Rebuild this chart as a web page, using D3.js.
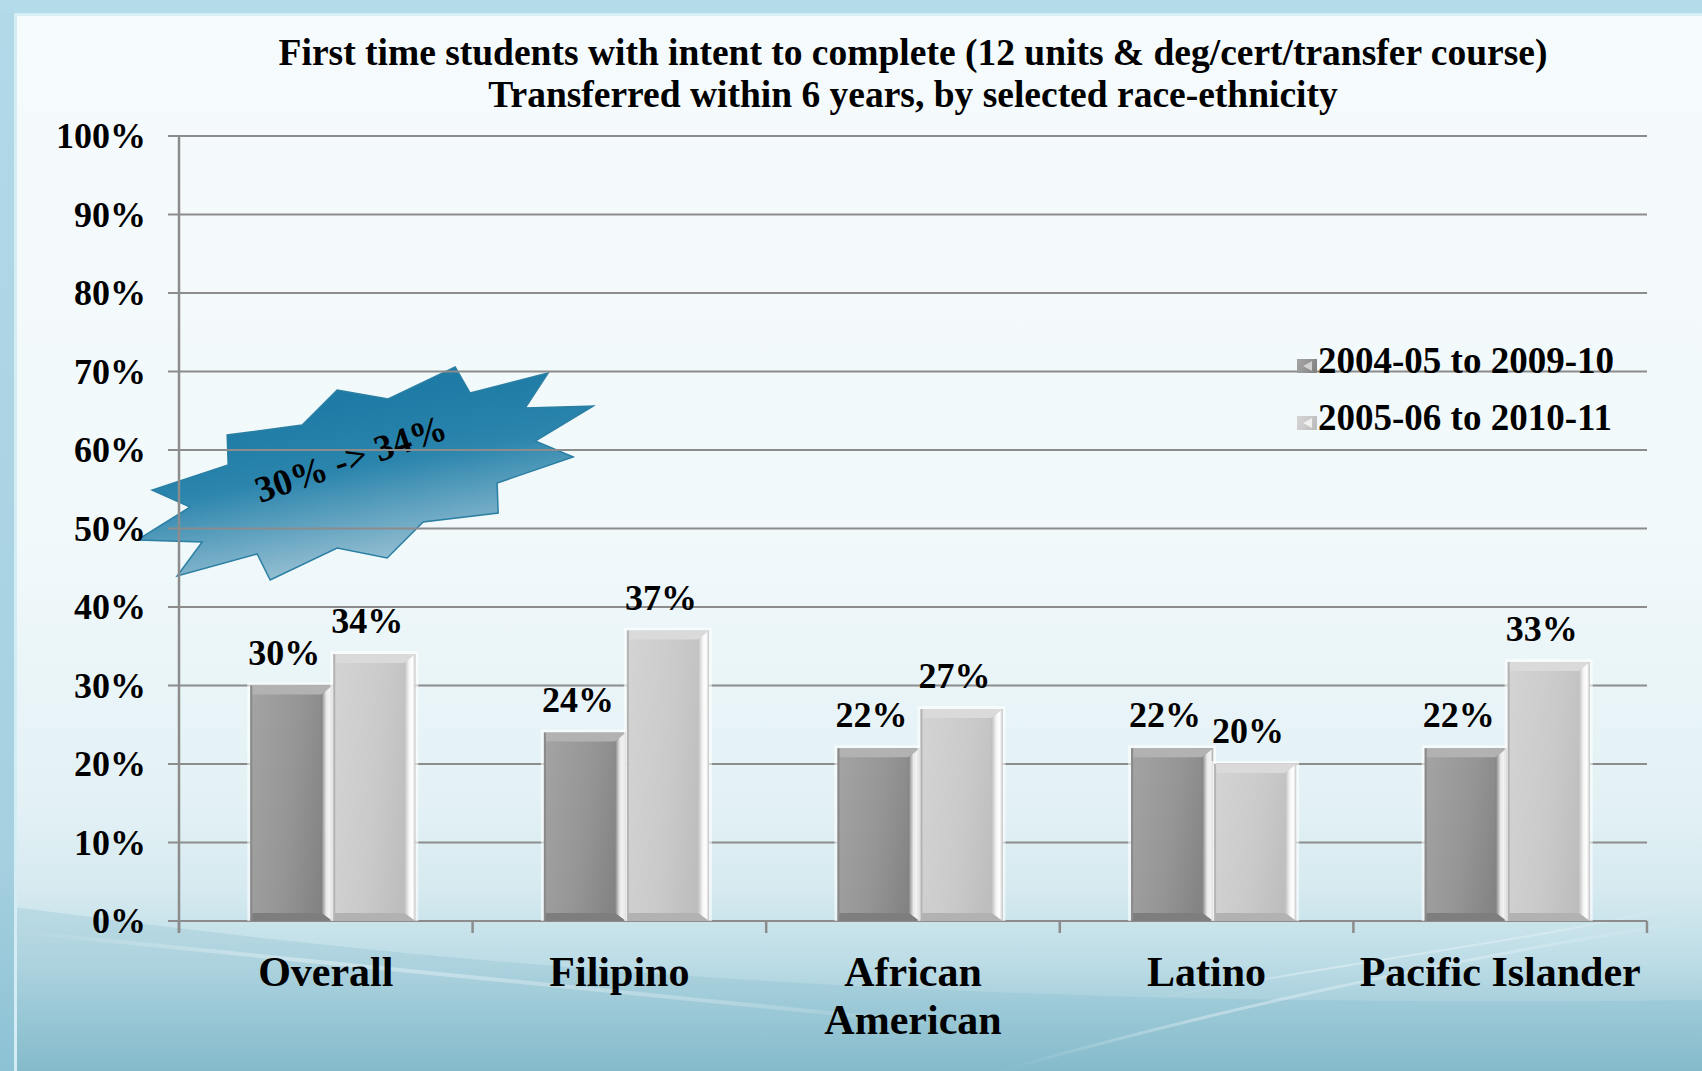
<!DOCTYPE html>
<html>
<head>
<meta charset="utf-8">
<script src="https://cdn.jsdelivr.net/npm/d3@7"></script>
<style>
  html, body { margin: 0; padding: 0; background: #ffffff; }
  svg { display: block; }
  text { font-family: "Liberation Serif", "Times New Roman", serif; font-weight: bold; fill: #000; }
</style>
</head>
<body>
<svg id="chart" width="1702" height="1071"></svg>
<script>
// chart data
var categories = ["Overall", "Filipino", "African American", "Latino", "Pacific Islander"];
var categoryLines = [["Overall"], ["Filipino"], ["African", "American"], ["Latino"], ["Pacific Islander"]];
var series = ["2004-05 to 2009-10", "2005-06 to 2010-11"];
var cohort1 = [0.30, 0.24, 0.22, 0.22, 0.22];
var cohort2 = [0.34, 0.37, 0.27, 0.20, 0.33];
var yTicks = [0, 0.1, 0.2, 0.3, 0.4, 0.5, 0.6, 0.7, 0.8, 0.9, 1.0];
var titleLines = [
  "First time students with intent to complete (12 units & deg/cert/transfer course)",
  "Transferred within 6 years, by selected race-ethnicity"
];
var calloutText = "30% -> 34%";
// callout outline, offsets from its anchor
var burst = [[-218,90],[-153,92],[-178,126],[-98,104],[-85,130],[-18,98],[32,108],[68,72],
  [143,63],[142,33],[218,7],[180,-9],[238,-44],[170,-42],[193,-77],[115,-57],[100,-83],
  [33,-51],[-18,-60],[-53,-25],[-128,-15],[-127,15],[-203,40],[-165,57]];

var svg = d3.select("#chart");
var W = 1702, H = 1071;
var margins = { top: 136, bottom: 150, left: 179, right: 55 };

var x = d3.scaleBand().domain(categories).range([margins.left, W - margins.right]);
var y = d3.scaleLinear().domain([0, 1]).range([H - margins.bottom, margins.top]);
var xs = d3.scaleBand().domain(series).range([0, 165]).paddingInner(0.012);
var barShift = 7; // bars sit a little right of the labels

var defs = svg.append("defs");

function linGrad(id, x1, y1, x2, y2, stops) {
  var g = defs.append("linearGradient").attr("id", id)
    .attr("x1", x1).attr("y1", y1).attr("x2", x2).attr("y2", y2);
  stops.forEach(function (s) {
    g.append("stop").attr("offset", s[0]).attr("stop-color", s[1]).attr("stop-opacity", s[2] == null ? 1 : s[2]);
  });
}

linGrad("bg", 0, 0, 0, 1, [[0, "#f6fbfd"], [0.5, "#f1f9fb"], [0.75, "#e3f1f5"], [0.83, "#d6eaf0"], [0.9, "#bcdce6"], [1, "#86bccd"]]);
linGrad("frame", 0, 0, 0, 1, [[0, "#b2d9e8"], [0.8, "#a6d0e0"], [1, "#8cc2d4"]]);
linGrad("burst", 0.35, 0.2, 0.65, 1, [[0, "#1d7ba5"], [0.35, "#2b85ad"], [1, "#b3cfdc"]]);
linGrad("dark", 0, 0, 1, 0.3, [[0, "#a4a4a4"], [0.6, "#959595"], [1, "#848484"]]);
linGrad("light", 0, 0, 1, 0.3, [[0, "#d4d4d4"], [0.6, "#cacaca"], [1, "#bebebe"]]);
linGrad("darkSide", 0, 0, 1, 0, [[0, "#7e7e7e"], [0.45, "#e8e8e8"], [0.75, "#f4f4f4"], [1, "#a8a8a8"]]);
linGrad("lightSide", 0, 0, 1, 0, [[0, "#bdbdbd"], [0.45, "#f6f6f6"], [0.75, "#ffffff"], [1, "#c8c8c8"]]);
linGrad("streak", 0, 0, 1, 0, [[0, "#ffffff", 0], [0.3, "#ffffff", 0.35], [0.7, "#ffffff", 0.25], [1, "#ffffff", 0]]);

// background and frame
svg.append("rect").attr("width", W).attr("height", H).attr("fill", "url(#bg)");
svg.append("path")
  .attr("d", "M0,905 C400,960 900,1010 1702,1000 L1702,1071 L0,1071 Z")
  .attr("fill", "#7fb6c8").attr("opacity", 0.25);
svg.append("path")
  .attr("d", "M0,930 C300,960 700,1000 1000,1030")
  .attr("fill", "none").attr("stroke", "url(#streak)").attr("stroke-width", 4);
svg.append("path")
  .attr("d", "M1000,1071 C1250,1000 1500,950 1702,920")
  .attr("fill", "none").attr("stroke", "url(#streak)").attr("stroke-width", 3);
svg.append("path")
  .attr("d", "M1150,1000 C1350,960 1550,940 1702,900")
  .attr("fill", "none").attr("stroke", "url(#streak)").attr("stroke-width", 2);
svg.append("rect").attr("x", 0).attr("y", 0).attr("width", 14).attr("height", H).attr("fill", "url(#frame)");
svg.append("rect").attr("x", 0).attr("y", 0).attr("width", W).attr("height", 13).attr("fill", "#b4dbe9");
svg.append("rect").attr("x", 14).attr("y", 13).attr("width", 3).attr("height", H).attr("fill", "#d4ecf4");
svg.append("rect").attr("x", 14).attr("y", 13).attr("width", W).attr("height", 3).attr("fill", "#d8eef5");

// title
svg.append("g").selectAll("text").data(titleLines).enter().append("text")
  .attr("x", (x.range()[0] + x.range()[1]) / 2)
  .attr("y", function (d, i) { return 65 + i * 42; })
  .attr("text-anchor", "middle")
  .style("font-size", "37.5px")
  .text(function (d) { return d; });

// callout star, behind the grid
var ax = x("Overall") + x.bandwidth() * 0.6;
var ay = y(0.6);
var callout = svg.append("g").attr("transform", "translate(" + ax + "," + ay + ")");
callout.append("path")
  .attr("d", d3.line()(burst) + "Z")
  .attr("fill", "url(#burst)")
  .attr("stroke", "#2b7fa3").attr("stroke-width", 1.5);
callout.append("text")
  .attr("transform", "translate(-95,53) rotate(-19)")
  .style("font-size", "37px")
  .text(calloutText);

// grid
var grid = svg.append("g");
grid.selectAll("line").data(yTicks).enter().append("line")
  .attr("x1", margins.left - 11).attr("x2", x.range()[1])
  .attr("y1", function (d) { return y(d); }).attr("y2", function (d) { return y(d); })
  .attr("stroke", "#8c8c8c").attr("stroke-width", 2);

// y axis
svg.append("line")
  .attr("x1", margins.left).attr("x2", margins.left)
  .attr("y1", y(1)).attr("y2", y(0) + 12)
  .attr("stroke", "#8c8c8c").attr("stroke-width", 2.5);
svg.append("g").selectAll("text").data(yTicks).enter().append("text")
  .attr("x", margins.left - 33)
  .attr("y", function (d) { return y(d) + 12; })
  .attr("text-anchor", "end")
  .style("font-size", "36px")
  .text(function (d) { return d3.format(".0%")(d); });

// x axis ticks and labels
var bounds = categories.map(function (c) { return x(c); }).concat([x.range()[1]]);
svg.append("g").selectAll("line").data(bounds).enter().append("line")
  .attr("x1", function (d) { return d; }).attr("x2", function (d) { return d; })
  .attr("y1", y(0)).attr("y2", y(0) + 12)
  .attr("stroke", "#8c8c8c").attr("stroke-width", 2.5);

var catLabel = svg.append("g").selectAll("text").data(categories).enter().append("text")
  .attr("text-anchor", "middle")
  .style("font-size", "42px");
catLabel.each(function (c, i) {
  var t = d3.select(this);
  categoryLines[i].forEach(function (line, j) {
    t.append("tspan")
      .attr("x", x(c) + x.bandwidth() / 2)
      .attr("y", 986 + j * 48)
      .text(line);
  });
});

// bars
var rows = [];
categories.forEach(function (c, i) {
  rows.push({ cat: c, s: series[0], v: cohort1[i], kind: "dark" });
  rows.push({ cat: c, s: series[1], v: cohort2[i], kind: "light" });
});

function groupLeft(c) { return x(c) + x.bandwidth() / 2 - xs.range()[1] / 2; }

var bar = svg.append("g").selectAll("g").data(rows).enter().append("g")
  .attr("transform", function (d) { return "translate(" + (groupLeft(d.cat) + xs(d.s) + barShift) + "," + y(d.v) + ")"; });

bar.each(function (d) {
  var g = d3.select(this);
  var w = xs.bandwidth();
  var h = y(0) - y(d.v);
  var e = 9, r = 11, b = 8;
  var dark = d.kind === "dark";
  // soft glow
  g.append("rect").attr("x", -3).attr("y", -3).attr("width", w + 6).attr("height", h + 3)
    .attr("fill", "#ffffff").attr("opacity", 0.6);
  g.append("rect").attr("width", w).attr("height", h).attr("fill", dark ? "url(#dark)" : "url(#light)");
  // top bevel
  g.append("path").attr("d", d3.line()([[0, 0], [w, 0], [w - r, e], [2, e], [0, 0]]) + "Z")
    .attr("fill", dark ? "#b2b2b2" : "#dadada");
  // right bevel
  g.append("path").attr("d", d3.line()([[w, 0], [w, h], [w - r, h - b], [w - r, e]]) + "Z")
    .attr("fill", dark ? "url(#darkSide)" : "url(#lightSide)");
  // bottom bevel
  g.append("path").attr("d", d3.line()([[0, h], [w, h], [w - r, h - b], [2, h - b]]) + "Z")
    .attr("fill", dark ? "#7e7e7e" : "#b2b2b2");
  // left edge
  g.append("rect").attr("width", 2).attr("height", h).attr("fill", dark ? "#8a8a8a" : "#b4b4b4");
});

// value labels
svg.append("g").selectAll("text").data(rows).enter().append("text")
  .attr("x", function (d) { return groupLeft(d.cat) + xs(d.s) + xs.bandwidth() / 2; })
  .attr("y", function (d) { return y(d.v) - 21; })
  .attr("text-anchor", "middle")
  .style("font-size", "36px")
  .text(function (d) { return d3.format(".0%")(d.v); });

// legend
var legend = svg.append("g").selectAll("g").data(series).enter().append("g")
  .attr("transform", function (d, i) { return "translate(1297," + (373 + i * 57) + ")"; });
legend.append("rect").attr("x", 0).attr("y", -14).attr("width", 20).attr("height", 14)
  .attr("fill", function (d, i) { return i === 0 ? "url(#dark)" : "url(#light)"; });
legend.append("path").attr("d", "M15,-12 L6,-7 L15,-2 Z")
  .attr("fill", function (d, i) { return i === 0 ? "#d0d0d0" : "#f0f0f0"; });
legend.append("text").attr("x", 21).attr("y", 0)
  .style("font-size", "37px")
  .text(function (d) { return d; });
</script>
</body>
</html>
